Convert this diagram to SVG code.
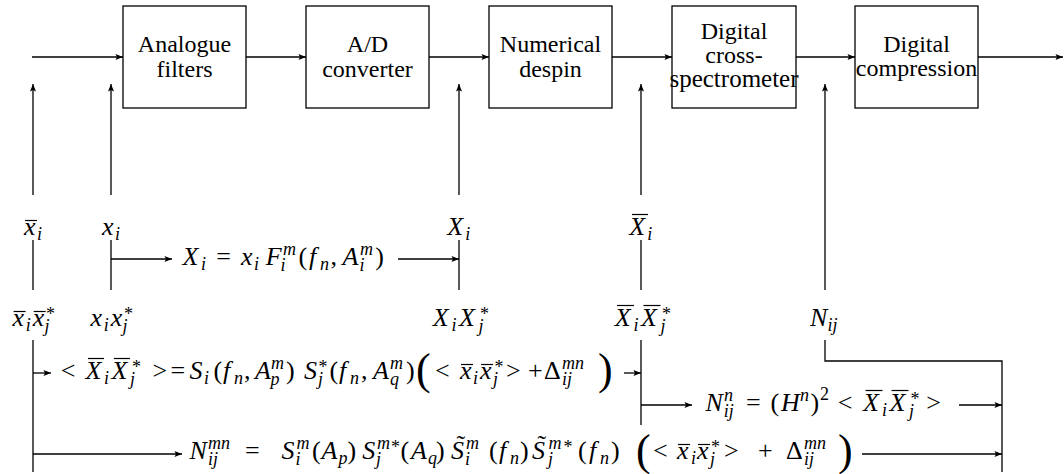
<svg xmlns="http://www.w3.org/2000/svg" width="1064" height="474" viewBox="0 0 1064 474">
<defs>
<marker id="ah" viewBox="0 0 10 8" refX="10" refY="4" markerWidth="8" markerHeight="6" markerUnits="userSpaceOnUse" orient="auto">
<path d="M0,0 L10,4 L0,8 L2,4 Z" fill="#000"/>
</marker>
</defs>
<g id="connectors" fill="none" stroke="#000" stroke-width="1.3">
<path marker-end="url(#ah)" d="M32,57 H123"/>
<path marker-end="url(#ah)" d="M246,57 H306"/>
<path marker-end="url(#ah)" d="M429,57 H489"/>
<path marker-end="url(#ah)" d="M612,57 H672"/>
<path marker-end="url(#ah)" d="M796,57 H855"/>
<path marker-end="url(#ah)" d="M978,57 H1063"/>
<path marker-end="url(#ah)" d="M33,195 V84"/>
<path marker-end="url(#ah)" d="M111,195 V84"/>
<path marker-end="url(#ah)" d="M459,195 V84"/>
<path marker-end="url(#ah)" d="M641,195 V84"/>
<path marker-end="url(#ah)" d="M825,290 V84"/>
<path d="M33,240 V290"/>
<path d="M111,240 V290"/>
<path d="M459,240 V290"/>
<path d="M641,240 V290"/>
<path d="M33,340 V472"/>
<path d="M641,340 V425"/>
<path d="M825,340 V361 H1002 V472"/>
<path marker-end="url(#ah)" d="M111,259 H172"/>
<path marker-end="url(#ah)" d="M398,259 H459"/>
<path marker-end="url(#ah)" d="M33,373 H51"/>
<path marker-end="url(#ah)" d="M624,373 H641"/>
<path marker-end="url(#ah)" d="M641,405 H692"/>
<path marker-end="url(#ah)" d="M959,405 H1002"/>
<path marker-end="url(#ah)" d="M33,454 H182"/>
<path marker-end="url(#ah)" d="M862,454 H1002"/>
</g>
<g id="n-analogue"><rect x="123" y="6" width="123" height="102" fill="#fff" stroke="#000" stroke-width="1.3"/><text font-family="Liberation Serif, Noto Sans CJK SC, serif" font-size="24" text-anchor="middle" x="184.5" y="52">Analogue</text><text font-family="Liberation Serif, Noto Sans CJK SC, serif" font-size="24" text-anchor="middle" x="184.5" y="77">filters</text></g>
<g id="n-ad"><rect x="306" y="6" width="123" height="102" fill="#fff" stroke="#000" stroke-width="1.3"/><text font-family="Liberation Serif, Noto Sans CJK SC, serif" font-size="24" text-anchor="middle" x="367.5" y="52">A/D</text><text font-family="Liberation Serif, Noto Sans CJK SC, serif" font-size="24" text-anchor="middle" x="367.5" y="77">converter</text></g>
<g id="n-despin"><rect x="489" y="6" width="123" height="102" fill="#fff" stroke="#000" stroke-width="1.3"/><text font-family="Liberation Serif, Noto Sans CJK SC, serif" font-size="24" text-anchor="middle" x="550.5" y="52">Numerical</text><text font-family="Liberation Serif, Noto Sans CJK SC, serif" font-size="24" text-anchor="middle" x="550.5" y="77">despin</text></g>
<g id="n-cross"><rect x="672" y="6" width="124" height="102" fill="#fff" stroke="#000" stroke-width="1.3"/><text font-family="Liberation Serif, Noto Sans CJK SC, serif" font-size="24" text-anchor="middle" x="734" y="39">Digital</text><text font-family="Liberation Serif, Noto Sans CJK SC, serif" font-size="24" text-anchor="middle" x="734" y="63">cross-</text><text font-family="Liberation Serif, Noto Sans CJK SC, serif" font-size="25" text-anchor="middle" x="734" y="87">spectrometer</text></g>
<g id="n-compression"><rect x="855" y="6" width="123" height="102" fill="#fff" stroke="#000" stroke-width="1.3"/><text font-family="Liberation Serif, Noto Sans CJK SC, serif" font-size="24" text-anchor="middle" x="916.5" y="52">Digital</text><text font-family="Liberation Serif, Noto Sans CJK SC, serif" font-size="24" text-anchor="middle" x="916.5" y="76">compression</text></g>
<g id="labels">
<text font-family="Liberation Serif, Noto Sans CJK SC, serif" font-size="26"><tspan font-style="italic" x="24" y="235">x</tspan><tspan font-size="18" font-style="italic" x="37.1" y="240">i</tspan></text>
<text font-family="Liberation Serif, Noto Sans CJK SC, serif" font-size="26"><tspan font-style="italic" x="102" y="235">x</tspan><tspan font-size="18" font-style="italic" x="115.1" y="240">i</tspan></text>
<text font-family="Liberation Serif, Noto Sans CJK SC, serif" font-size="26"><tspan font-style="italic" x="447.3" y="235">X</tspan><tspan font-size="18" font-style="italic" x="465.3" y="240">i</tspan></text>
<text font-family="Liberation Serif, Noto Sans CJK SC, serif" font-size="26"><tspan font-style="italic" x="629.3" y="235">X</tspan><tspan font-size="18" font-style="italic" x="647.3" y="240">i</tspan></text>
<text font-family="Liberation Serif, Noto Sans CJK SC, serif" font-size="26"><tspan font-style="italic" x="12.6" y="326">x</tspan><tspan font-size="18" font-style="italic" x="25.7" y="331">i</tspan><tspan font-style="italic" x="32.7" y="326">x</tspan><tspan font-size="18" x="46" y="320">*</tspan><tspan font-size="18" font-style="italic" x="44.5" y="332">j</tspan></text>
<text font-family="Liberation Serif, Noto Sans CJK SC, serif" font-size="26"><tspan font-style="italic" x="90.6" y="326">x</tspan><tspan font-size="18" font-style="italic" x="103.7" y="331">i</tspan><tspan font-style="italic" x="110.7" y="326">x</tspan><tspan font-size="18" x="124" y="320">*</tspan><tspan font-size="18" font-style="italic" x="122.5" y="332">j</tspan></text>
<text font-family="Liberation Serif, Noto Sans CJK SC, serif" font-size="26"><tspan font-style="italic" x="432.7" y="326">X</tspan><tspan font-size="18" font-style="italic" x="451.6" y="331">i</tspan><tspan font-style="italic" x="459.1" y="326">X</tspan><tspan font-size="18" x="480" y="320">*</tspan><tspan font-size="18" font-style="italic" x="478.5" y="332">j</tspan></text>
<text font-family="Liberation Serif, Noto Sans CJK SC, serif" font-size="26"><tspan font-style="italic" x="614.7" y="326">X</tspan><tspan font-size="18" font-style="italic" x="633.6" y="331">i</tspan><tspan font-style="italic" x="641.1" y="326">X</tspan><tspan font-size="18" x="662" y="320">*</tspan><tspan font-size="18" font-style="italic" x="660.5" y="332">j</tspan></text>
<text font-family="Liberation Serif, Noto Sans CJK SC, serif" font-size="26"><tspan font-style="italic" x="810" y="326">N</tspan><tspan font-size="18" font-style="italic" x="827.5" y="331">ij</tspan></text>
</g>
<g id="equations">
<text font-family="Liberation Serif, Noto Sans CJK SC, serif" font-size="26"><tspan font-style="italic" x="182.5" y="265">X</tspan><tspan font-size="18" font-style="italic" x="201" y="270">i</tspan><tspan x="216.2" y="265">=</tspan><tspan font-style="italic" x="241" y="265">x</tspan><tspan font-size="18" font-style="italic" x="254.1" y="270">i</tspan><tspan font-style="italic" x="265.7" y="265">F</tspan><tspan font-size="18" font-style="italic" x="283" y="255">m</tspan><tspan font-size="18" font-style="italic" x="280.5" y="271">i</tspan><tspan x="298.4" y="265">(</tspan><tspan font-style="italic" x="309" y="265">f</tspan><tspan font-size="18" font-style="italic" x="320" y="270">n</tspan><tspan x="330.5" y="265">,</tspan><tspan font-style="italic" x="342.5" y="265">A</tspan><tspan font-size="18" font-style="italic" x="360" y="255">m</tspan><tspan font-size="18" font-style="italic" x="359.5" y="271">i</tspan><tspan x="375.2" y="265">)</tspan></text>
<text font-family="Liberation Serif, Noto Sans CJK SC, serif" font-size="26"><tspan x="60.8" y="379">&lt;</tspan><tspan font-style="italic" x="85.5" y="379">X</tspan><tspan font-size="18" font-style="italic" x="104" y="384">i</tspan><tspan font-style="italic" x="111.5" y="379">X</tspan><tspan font-size="18" x="132" y="373">*</tspan><tspan font-size="18" font-style="italic" x="130" y="385">j</tspan><tspan x="152.5" y="379">&gt;</tspan><tspan x="170.5" y="379">=</tspan><tspan font-style="italic" x="189.5" y="379">S</tspan><tspan font-size="18" font-style="italic" x="204" y="384">i</tspan><tspan x="213.5" y="379">(</tspan><tspan font-style="italic" x="223" y="379">f</tspan><tspan font-size="18" font-style="italic" x="234" y="384">n</tspan><tspan x="244" y="379">,</tspan><tspan font-style="italic" x="255" y="379">A</tspan><tspan font-size="18" font-style="italic" x="271" y="369">m</tspan><tspan font-size="18" font-style="italic" x="270.5" y="385">p</tspan><tspan x="286" y="379">)</tspan><tspan font-style="italic" x="304" y="379">S</tspan><tspan font-size="18" x="318.5" y="373">*</tspan><tspan font-size="18" font-style="italic" x="318" y="385">j</tspan><tspan x="329.5" y="379">(</tspan><tspan font-style="italic" x="339" y="379">f</tspan><tspan font-size="18" font-style="italic" x="350" y="384">n</tspan><tspan x="361" y="379">,</tspan><tspan font-style="italic" x="373" y="379">A</tspan><tspan font-size="18" font-style="italic" x="390" y="369">m</tspan><tspan font-size="18" font-style="italic" x="390" y="385">q</tspan><tspan x="406" y="379">)</tspan><tspan font-size="44" x="416" y="384">(</tspan><tspan x="435" y="379">&lt;</tspan><tspan font-style="italic" x="460" y="379">x</tspan><tspan font-size="18" font-style="italic" x="473.1" y="384">i</tspan><tspan font-style="italic" x="480" y="379">x</tspan><tspan font-size="18" x="494.5" y="373">*</tspan><tspan font-size="18" font-style="italic" x="493" y="385">j</tspan><tspan x="506" y="379">&gt;</tspan><tspan x="528" y="379">+</tspan><tspan x="544" y="379">Δ</tspan><tspan font-size="18" font-style="italic" x="562" y="369">mn</tspan><tspan font-size="18" font-style="italic" x="562" y="385">ij</tspan><tspan font-size="44" x="598" y="384">)</tspan></text>
<text font-family="Liberation Serif, Noto Sans CJK SC, serif" font-size="26"><tspan font-style="italic" x="705.5" y="411">N</tspan><tspan font-size="18" font-style="italic" x="724" y="401">n</tspan><tspan font-size="18" font-style="italic" x="723.8" y="417">ij</tspan><tspan x="746.1" y="411">=</tspan><tspan x="770.4" y="411">(</tspan><tspan font-style="italic" x="781" y="411">H</tspan><tspan font-size="18" font-style="italic" x="800" y="401">n</tspan><tspan x="810.4" y="411">)</tspan><tspan font-size="18" x="820" y="400">2</tspan><tspan x="837.8" y="411">&lt;</tspan><tspan font-style="italic" x="863.1" y="411">X</tspan><tspan font-size="18" font-style="italic" x="882" y="416">i</tspan><tspan font-style="italic" x="889.5" y="411">X</tspan><tspan font-size="18" x="910.5" y="405">*</tspan><tspan font-size="18" font-style="italic" x="909" y="417">j</tspan><tspan x="926.3" y="411">&gt;</tspan></text>
<text font-family="Liberation Serif, Noto Sans CJK SC, serif" font-size="26"><tspan font-style="italic" x="189.5" y="459">N</tspan><tspan font-size="18" font-style="italic" x="208" y="449">mn</tspan><tspan font-size="18" font-style="italic" x="208" y="465">ij</tspan><tspan x="245" y="459">=</tspan><tspan font-style="italic" x="281.5" y="459">S</tspan><tspan font-size="18" font-style="italic" x="296.5" y="449">m</tspan><tspan font-size="18" font-style="italic" x="295.5" y="465">i</tspan><tspan x="312" y="459">(</tspan><tspan font-style="italic" x="321.5" y="459">A</tspan><tspan font-size="18" font-style="italic" x="338.5" y="464">p</tspan><tspan x="347.5" y="459">)</tspan><tspan font-style="italic" x="362.3" y="459">S</tspan><tspan font-size="18" font-style="italic" x="377" y="449">m</tspan><tspan font-size="18" x="391" y="453">*</tspan><tspan font-size="18" font-style="italic" x="376" y="465">j</tspan><tspan x="400.5" y="459">(</tspan><tspan font-style="italic" x="411" y="459">A</tspan><tspan font-size="18" font-style="italic" x="428" y="464">q</tspan><tspan x="436" y="459">)</tspan><tspan font-style="italic" x="450.9" y="459">S</tspan><tspan x="456.4" y="453">˜</tspan><tspan font-size="18" font-style="italic" x="466" y="449">m</tspan><tspan font-size="18" font-style="italic" x="465" y="465">i</tspan><tspan x="489" y="459">(</tspan><tspan font-style="italic" x="499" y="459">f</tspan><tspan font-size="18" font-style="italic" x="510" y="464">n</tspan><tspan x="520" y="459">)</tspan><tspan font-style="italic" x="532" y="459">S</tspan><tspan x="537.5" y="453">˜</tspan><tspan font-size="18" font-style="italic" x="548.5" y="449">m</tspan><tspan font-size="18" x="563.5" y="453">*</tspan><tspan font-size="18" font-style="italic" x="548" y="465">j</tspan><tspan x="578" y="459">(</tspan><tspan font-style="italic" x="589" y="459">f</tspan><tspan font-size="18" font-style="italic" x="600" y="464">n</tspan><tspan x="611" y="459">)</tspan><tspan font-size="44" x="636" y="465">(</tspan><tspan x="653" y="459">&lt;</tspan><tspan font-style="italic" x="677" y="459">x</tspan><tspan font-size="18" font-style="italic" x="691" y="464">i</tspan><tspan font-style="italic" x="697" y="459">x</tspan><tspan font-size="18" x="711" y="453">*</tspan><tspan font-size="18" font-style="italic" x="710" y="465">j</tspan><tspan x="724" y="459">&gt;</tspan><tspan x="758" y="459">+</tspan><tspan x="786" y="459">Δ</tspan><tspan font-size="18" font-style="italic" x="804" y="449">mn</tspan><tspan font-size="18" font-style="italic" x="804" y="465">ij</tspan><tspan font-size="44" x="838" y="465">)</tspan></text>
</g>
<g id="overlines" stroke="#000" stroke-width="1.2">
<line x1="25" y1="220.5" x2="37" y2="220.5"/>
<line x1="632" y1="214.5" x2="648" y2="214.5"/>
<line x1="13.6" y1="311.5" x2="25.6" y2="311.5"/>
<line x1="33.7" y1="311.5" x2="45.7" y2="311.5"/>
<line x1="617" y1="305.5" x2="634" y2="305.5"/>
<line x1="643.5" y1="305.5" x2="660.5" y2="305.5"/>
<line x1="88" y1="358.5" x2="104" y2="358.5"/>
<line x1="114" y1="358.5" x2="130" y2="358.5"/>
<line x1="461" y1="364.5" x2="473" y2="364.5"/>
<line x1="481" y1="364.5" x2="493" y2="364.5"/>
<line x1="865.5" y1="390.5" x2="882.5" y2="390.5"/>
<line x1="891.5" y1="390.5" x2="908.5" y2="390.5"/>
<line x1="678" y1="444.5" x2="690" y2="444.5"/>
<line x1="698" y1="444.5" x2="710" y2="444.5"/>
</g>
</svg>
